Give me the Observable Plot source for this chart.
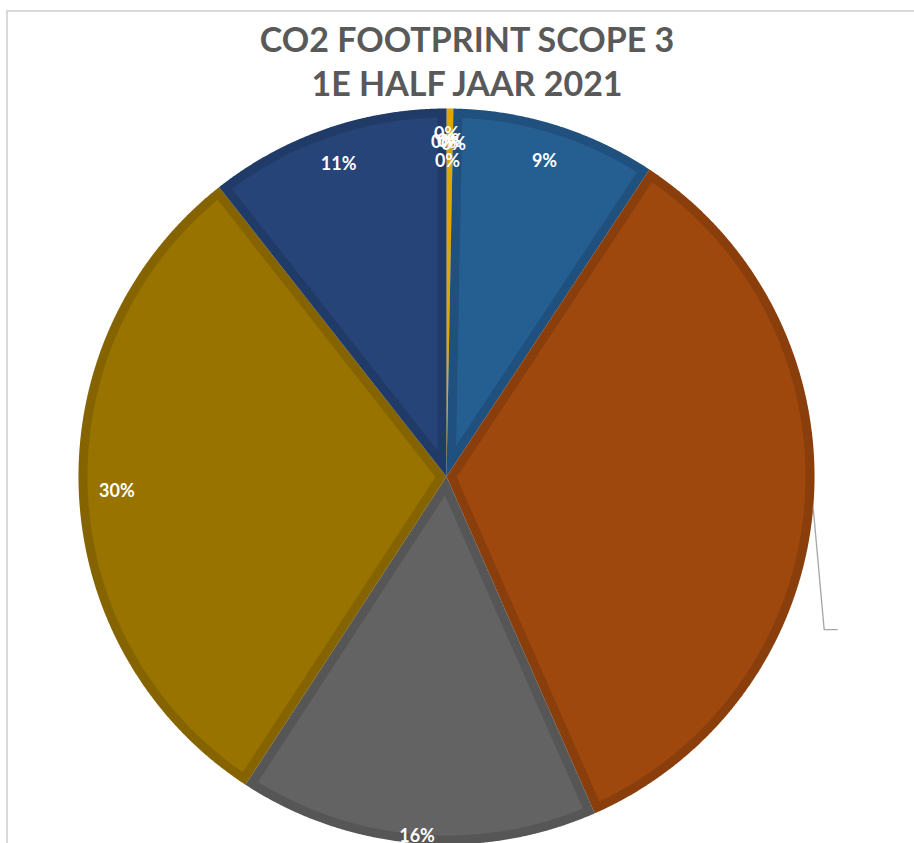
<!DOCTYPE html>
<html><head><meta charset="utf-8">
<script src="https://cdn.jsdelivr.net/npm/d3@7"></script>
<script src="https://cdn.jsdelivr.net/npm/@observablehq/plot@0.6"></script>
<style>
html,body{margin:0;padding:0;background:#fff;overflow:hidden;width:914px;height:843px;}
#frame{position:absolute;left:6px;top:10px;width:1000px;height:1000px;border-left:2px solid #d9d9d9;border-top:2px solid #d9d9d9;box-sizing:border-box;}
#title{position:relative;height:105px;box-sizing:border-box;padding-top:17px;padding-left:20px;text-align:center;font-family:Lato,"Open Sans",sans-serif;font-weight:700;font-size:34px;line-height:44px;color:#595959;}
#chart{position:relative;}
</style></head><body>
<div id="frame"></div>
<div id="title">CO2 FOOTPRINT SCOPE 3<br>1E HALF JAAR 2021</div>
<div id="chart"></div>
<script>
// Slices, clockwise from 12 o'clock (values in % of total)
const sliceNames = ["Categorie 1", "Categorie 2", "Categorie 3", "Categorie 4", "Categorie 5", "Categorie 6", "Categorie 7", "Categorie 8", "Categorie 9", "Categorie 10"];
const sliceValues = [0, 0, 0.3, 0, 0, 9.0, 34.1, 15.8, 30.2, 10.6];
const sliceColors = ["#4472C4", "#ED7D31", "#FFC000", "#A5A5A5", "#5B9BD5", "#255E91", "#9E480E", "#636363", "#997300", "#264478"];

// layout
const W = 914, H = 738, cx = 446, cy = 371, R = 368, inset = 9;
const total = d3.sum(sliceValues);
const pt = (a, r) => [cx + r * Math.sin(a), cy - r * Math.cos(a)];

let acc = 0;
const slices = sliceNames.map((name, i) => {
  const a0 = acc / total * 2 * Math.PI;
  acc += sliceValues[i];
  const a1 = acc / total * 2 * Math.PI;
  return {name, value: sliceValues[i], a0, a1, mid: (a0 + a1) / 2, pct: Math.round(sliceValues[i] / total * 100) + "%"};
});

function arcPts(a0, a1, r) {
  const n = Math.max(2, Math.ceil((a1 - a0) / 0.004));
  return d3.range(n + 1).map(k => pt(a0 + (a1 - a0) * k / n, r));
}
function wedge(s) {
  return [[cx, cy], ...arcPts(s.a0, s.a1, R), [cx, cy]];
}
function insetWedge(s) {
  const th = s.a1 - s.a0;
  const rr = R - inset;
  const ap = inset / Math.sin(th / 2);
  if (!(ap < rr * 0.85)) return null;
  const off = Math.asin(inset / rr);
  const apex = pt(s.mid, ap);
  return [apex, ...arcPts(s.a0 + off, s.a1 - off, rr), apex];
}
const feat = (s, ring) => ({type: "Feature", properties: {name: s.name}, geometry: {type: "Polygon", coordinates: [ring]}});
const visible = slices.filter(s => s.value > 0);
const baseF = visible.map(s => feat(s, wedge(s)));
const innerF = visible.map(s => [s, insetWedge(s)]).filter(d => d[1]).map(([s, r]) => feat(s, r));

// label placement (radius from centre, small x shift) per slice
const labelRadius = {"Categorie 1": 342, "Categorie 2": 334, "Categorie 3": 335, "Categorie 4": 332, "Categorie 5": 315, "Categorie 8": 361};
const labelShift = {"Categorie 1": 0, "Categorie 2": -3, "Categorie 3": 3, "Categorie 4": 7, "Categorie 5": 1};
const labels = slices.filter(s => s.name !== "Categorie 7").map(s => {
  const r = labelRadius[s.name] ?? 330;
  const a = (s.value < 1) ? 0 : s.mid;
  const [x, y] = pt(a, r);
  return {x: x + (labelShift[s.name] ?? 0), y, text: s.pct};
});
// outside label with leader line for the largest slice
const big = slices.find(s => s.name === "Categorie 7");
const p0 = pt(big.mid, R);
const p1 = [p0[0] + 11, p0[1] + 122];
const p2 = [p1[0] + 13, p1[1]];
const leader = [p0, p1, p2].map(([x, y]) => ({x, y}));
const outLabel = [{x: p2[0] + 4, y: p2[1], text: big.pct}];

const chart = Plot.plot({
  width: W, height: H, margin: 0,
  projection: d3.geoIdentity(),
  color: {domain: sliceNames, range: sliceColors},
  style: {background: "transparent", overflow: "visible"},
  marks: [
    Plot.geo(baseF, {fill: d => d.properties.name}),
    Plot.geo(baseF, {fill: "black", fillOpacity: 0.13}),
    Plot.geo(innerF, {fill: d => d.properties.name}),
    Plot.line(leader, {x: "x", y: "y", stroke: "#a6a6a6", strokeWidth: 1.3, curve: "linear"}),
    Plot.text(outLabel, {x: "x", y: "y", text: "text", fill: "white", textAnchor: "start", fontSize: 18, fontWeight: "bold", fontFamily: "Lato"}),
    Plot.text(labels, {x: "x", y: "y", text: "text", fill: "white", fontSize: 18, fontWeight: "bold", fontFamily: "Lato"})
  ]
});
document.getElementById("chart").appendChild(chart);
</script>
</body></html>
